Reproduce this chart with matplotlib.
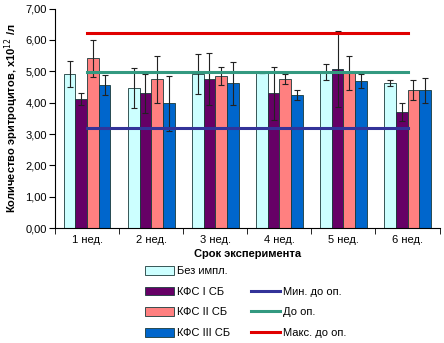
import numpy as np
from matplotlib import pyplot as plt
from matplotlib.lines import Line2D
from matplotlib.patches import Patch

plt.rcParams["font.family"] = ["Liberation Sans", "DejaVu Sans"]
plt.rcParams["font.size"] = 8

weeks = ['1 нед.', '2 нед.', '3 нед.', '4 нед.', '5 нед.', '6 нед.']
series = ['Без импл.', 'КФС I СБ', 'КФС II СБ', 'КФС III СБ']
values = [
    [4.92, 4.46, 4.92, 4.94, 4.97, 4.62],
    [4.11, 4.30, 4.75, 4.30, 5.07, 3.70],
    [5.41, 4.75, 4.86, 4.75, 4.94, 4.39],
    [4.56, 3.98, 4.62, 4.24, 4.69, 4.39],
]
errors = [
    [0.42, 0.63, 0.64, 0.00, 0.25, 0.09],
    [0.19, 0.62, 0.83, 0.85, 1.20, 0.30],
    [0.58, 0.75, 0.29, 0.16, 0.55, 0.32],
    [0.31, 0.87, 0.68, 0.15, 0.23, 0.41],
]
ref_names = ['Мин. до оп.', 'До оп.', 'Макс. до оп.']
ref_values = [3.20, 4.97, 6.22]

bar_colors = ['#CCFFFF', '#660066', '#FF8080', '#0066CC']
line_colors = ['#333399', '#339980', '#E00000']

fig = plt.figure(figsize=(4.44, 3.43), dpi=100)
ax = fig.add_axes([0.124, 0.335, 0.866, 0.64])

x = np.arange(len(weeks))
w = 0.182
for i, (vals, errs) in enumerate(zip(values, errors)):
    pos = x + (i - 1.5) * w
    ax.bar(pos, vals, w, color=bar_colors[i], edgecolor='#1a3a3a', linewidth=0.6, zorder=2)
    ax.errorbar(pos, vals, yerr=errs, fmt='none', ecolor='#222222',
                elinewidth=0.8, capsize=2.5, capthick=0.8, zorder=3)

for val, col in zip(ref_values, line_colors):
    ax.plot([x[0], x[-1]], [val, val], color=col, linewidth=2.2, zorder=4)

ax.set_xlim(-0.5, len(weeks) - 0.5)
ax.set_ylim(0, 7)
ax.set_yticks(np.arange(0, 7.01, 1))
ax.set_yticklabels([f'{v:.2f}'.replace('.', ',') for v in np.arange(0, 7.01, 1)])
ax.set_xticks(x)
ax.set_xticklabels(weeks)
ax.set_xticks(np.arange(-0.5, len(weeks), 1), minor=True)
ax.tick_params(axis='x', which='major', length=0, pad=5)
ax.tick_params(axis='x', which='minor', length=4, direction='out')
ax.tick_params(axis='y', length=4, direction='out', pad=2)
for s in ['top', 'right']:
    ax.spines[s].set_visible(False)

ax.set_xlabel('Срок эксперимента', fontweight='bold', labelpad=3)
ax.set_ylabel('Количество эритроцитов, x10$^{12}$ /л', fontweight='bold', labelpad=3)

handles = [Patch(facecolor=c, edgecolor='#1a3a3a', linewidth=0.6) for c in bar_colors]
handles.append(Patch(alpha=0))
handles += [Line2D([], [], color=c, linewidth=2.2) for c in line_colors]
labels = series + [''] + ref_names
fig.legend(handles, labels, ncol=2, loc='lower left', bbox_to_anchor=(0.305, -0.015),
           frameon=False, handlelength=2.6, handleheight=0.8, handletextpad=0.25,
           columnspacing=1.9, labelspacing=0.95, fontsize=8)

plt.savefig('out.png')
